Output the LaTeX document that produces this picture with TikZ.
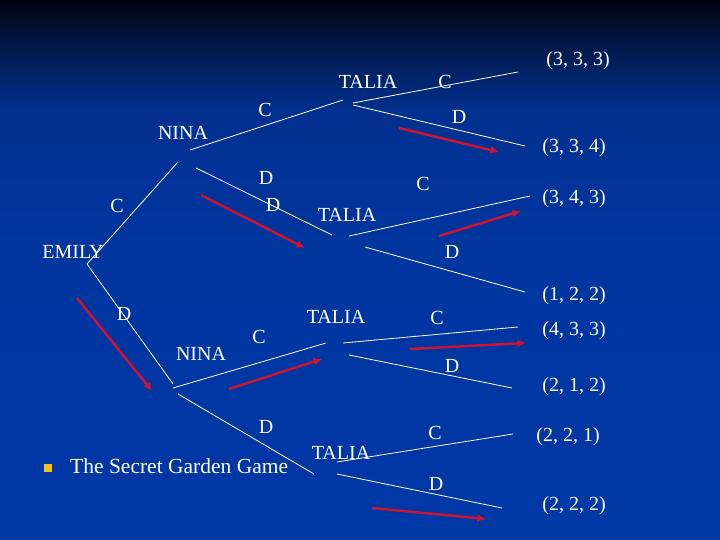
\documentclass[tikz,border=0pt]{standalone}
\usepackage{fontspec}
\setmainfont{Liberation Serif}
\usepackage{xcolor}
\usepackage{tikz}
\usetikzlibrary{arrows.meta,positioning,calc}
\definecolor{slidetop}{HTML}{01040F}
\definecolor{slideupper}{HTML}{001A4C}
\definecolor{slidemid}{HTML}{02308F}
\definecolor{slidebot}{HTML}{0038A6}
\definecolor{hintred}{HTML}{CC1434}
\definecolor{bulletgold}{HTML}{F2C21C}
\pgfdeclareverticalshading{slidebg}{100bp}{color(0bp)=(slidebot); color(25bp)=(slidebot); color(52.8bp)=(slidebot!70!slidemid); color(64.8bp)=(slidemid); color(70.4bp)=(slideupper); color(75bp)=(slidetop); color(100bp)=(slidetop)}
\tikzset{
  lbl/.style={text=white, inner sep=0pt, font=\fontsize{20}{22}\selectfont},
  payoff/.style={lbl},
  branch/.style={draw=white, line width=.8pt},
  hint/.style={-{Latex[length=3mm,width=2.8mm]}, draw=hintred, line width=2.5pt}
}

\begin{document}
\begin{tikzpicture}[x=1pt, y=-1pt]
        \shade[shading=slidebg] (0,0) rectangle (720,540);
        \useasboundingbox (0,0) rectangle (720,540);

        % players
        \node[lbl] (emily) at (73,252) {EMILY};
        \node[lbl] (ninaA) at (183,133) {NINA};
        \node[lbl] (ninaB) at (201,354) {NINA};
        \node[lbl] (taliaA) at (368,82) {TALIA};
        \node[lbl] (taliaB) at (347,215) {TALIA};
        \node[lbl] (taliaC) at (336,317) {TALIA};
        \node[lbl] (taliaD) at (341,453) {TALIA};

        % moves
        \node[lbl] (eC) at (117,206) {C};
        \node[lbl] (eD) at (124,314) {D};
        \node[lbl] (naC) at (265,110) {C};
        \node[lbl] (naD) at (266,178) {D};
        \node[lbl] (naD2) at (273,205) {D};
        \node[lbl] (nbC) at (259,337) {C};
        \node[lbl] (nbD) at (266,427) {D};
        \node[lbl] (taC) at (445,82) {C};
        \node[lbl] (taD) at (459,117) {D};
        \node[lbl] (tbC) at (423,184) {C};
        \node[lbl] (tbD) at (452,252) {D};
        \node[lbl] (tcC) at (437,318) {C};
        \node[lbl] (tcD) at (452,366) {D};
        \node[lbl] (tdC) at (435,433) {C};
        \node[lbl] (tdD) at (436,484) {D};

        % payoffs
        \node[payoff] (p1) at (578,61) {(3, 3, 3)};
        \node[payoff] (p2) at (574,148) {(3, 3, 4)};
        \node[payoff] (p3) at (574,199) {(3, 4, 3)};
        \node[payoff] (p4) at (574,296) {(1, 2, 2)};
        \node[payoff] (p5) at (574,331) {(4, 3, 3)};
        \node[payoff] (p6) at (574,387) {(2, 1, 2)};
        \node[payoff] (p7) at (568,437) {(2, 2, 1)};
        \node[payoff] (p8) at (574,506) {(2, 2, 2)};

        \node[fill=bulletgold, minimum size=8.5pt, inner sep=0pt] (bul) at (48,468) {};
        \node[lbl, anchor=west, font=\fontsize{21.5}{24}\selectfont] (game) at (70,466) {The Secret Garden Game};

        % branch ends
        \coordinate (e0) at (87,264);
        \coordinate (na0) at (178,162);
        \coordinate (nb0) at (173,384);
        \coordinate (naC0) at (190,150);  \coordinate (naC1) at (343,100);
        \coordinate (naD0) at (196,168);  \coordinate (naD1) at (332,235);
        \coordinate (nbC0) at (173,388);  \coordinate (nbC1) at (326,343);
        \coordinate (nbD0) at (178,394);  \coordinate (nbD1) at (314,474);
        \coordinate (taC0) at (353,103);  \coordinate (taC1) at (518,72);
        \coordinate (taD0) at (353,105);  \coordinate (taD1) at (525,146);
        \coordinate (tbC0) at (349,236);  \coordinate (tbC1) at (530,196);
        \coordinate (tbD0) at (365,247);  \coordinate (tbD1) at (525,292);
        \coordinate (tcC0) at (343,343);  \coordinate (tcC1) at (518,327);
        \coordinate (tcD0) at (349,355);  \coordinate (tcD1) at (512,388);
        \coordinate (tdC0) at (337,462);  \coordinate (tdC1) at (513,434);
        \coordinate (tdD0) at (337,474);  \coordinate (tdD1) at (502,508);

        \draw[branch] (e0) -- (na0);
        \draw[branch] (e0) -- (nb0);
        \foreach \b in {naC,naD,nbC,nbD,taC,taD,tbC,tbD,tcC,tcD,tdC,tdD}
          \draw[branch] (\b0) -- (\b1);

        % red arrows
        \coordinate (h1a) at (201,195);  \coordinate (h1b) at (305,248);
        \coordinate (h2a) at (399,128);  \coordinate (h2b) at (499,152);
        \coordinate (h3a) at (439,236);  \coordinate (h3b) at (521,211);
        \coordinate (h4a) at (77,298);   \coordinate (h4b) at (152,391);
        \coordinate (h5a) at (229,389);  \coordinate (h5b) at (322,359);
        \coordinate (h6a) at (410,349);  \coordinate (h6b) at (526,343);
        \coordinate (h7a) at (372,508);  \coordinate (h7b) at (486,519);
        \foreach \h in {1,...,7}
          \draw[hint] (h\h a) -- (h\h b);
      \end{tikzpicture}
\end{document}
